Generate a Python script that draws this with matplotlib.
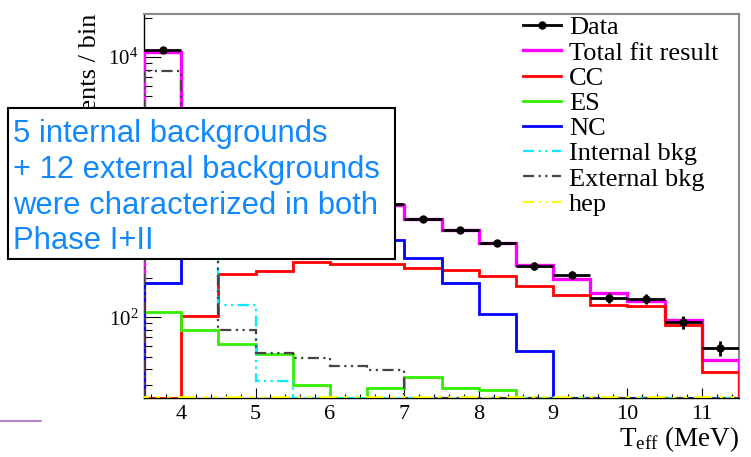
import matplotlib
matplotlib.use("Agg")
import matplotlib.pyplot as plt
from matplotlib.lines import Line2D
from matplotlib.patches import Rectangle
from matplotlib.ticker import FixedLocator, MultipleLocator, NullFormatter
import numpy as np

# energy bins (MeV)
bin_edges = [3.5, 4.0, 4.5, 5.0, 5.5, 6.0, 6.5, 7.0, 7.5, 8.0, 8.5, 9.0, 9.5, 10.0, 10.5, 11.0, 11.5]
bin_centers = [3.75, 4.25, 4.75, 5.25, 5.75, 6.25, 6.75, 7.25, 7.75, 8.25, 8.75, 9.25, 9.75, 10.25, 10.75, 11.25]

data_counts = [11250, 2450, 900, 805, 810, 760, 741, 570, 469, 375, 248, 211, 141, 138, 92, 58]
data_err = [106, 49, 30, 28, 28, 28, 27, 24, 22, 19, 16, 15, 12, 12, 10, 7.6]

total_fit = [11000, 2470, 893, 803, 808, 750, 729, 574, 469, 371, 252, 197, 153, 134, 95, 47.3]
cc = [5, 103, 217, 225, 264, 257, 256, 238, 233, 208, 173, 148, 124, 123, 87, 38.3]
es = [109, 80, 62, 52, 30, 15, 28.6, 34.7, 28.7, 27.8, 20, 18, 15, 12, 10, 7]
nc = [185, 340, 410, 440, 455, 430, 393, 288, 185, 106, 55, 15, 5, 2, 1, 0.5]
internal_bkg = [3000, 650, 124, 32.7, 10, 5, 3, 2, 1, 1, 0.5, 0.5, 0.3, 0.2, 0.1, 0.1]
external_bkg = [7760, 1300, 80.5, 53, 49, 42.5, 39.3, 20, 12, 8, 5, 3, 2, 1, 1, 0.5]
hep = [0.3, 0.3, 0.3, 0.3, 0.3, 0.3, 0.3, 0.3, 0.3, 0.3, 0.3, 0.3, 0.3, 0.3, 0.3, 0.3]

ymin, ymax = 24, 21400

plt.rcParams["font.family"] = ["Liberation Serif", "DejaVu Serif"]
plt.rcParams["mathtext.fontset"] = "custom"
plt.rcParams["mathtext.rm"] = "Liberation Serif"
plt.rcParams["mathtext.it"] = "Liberation Serif:italic"

fig = plt.figure(figsize=(7.51, 4.57), dpi=100)
ax = fig.add_axes([144 / 751, 1 - 398 / 457, 595 / 751, 384 / 457])


def clip(v):
    # ROOT draws entries below the minimum on the bottom of the frame
    return np.clip(np.array(v, dtype=float), ymin, None)


dashdotdot = (0, (5, 2, 1, 2, 1, 2))

ax.stairs(clip(total_fit), bin_edges, color="#ff00ff", lw=2.4, zorder=3)
ax.stairs(clip(cc), bin_edges, color="#ff0000", lw=2.0, zorder=4)
ax.stairs(clip(es), bin_edges, color="#33ee00", lw=2.0, zorder=4)
ax.stairs(clip(nc), bin_edges, color="#0000ff", lw=2.0, zorder=4)
ax.stairs(clip(internal_bkg), bin_edges, color="#00eeff", lw=1.6, linestyle=dashdotdot, zorder=5)
ax.stairs(clip(external_bkg), bin_edges, color="#444444", lw=1.6, linestyle=dashdotdot, zorder=5)
ax.stairs(clip(hep), bin_edges, color="#ffff00", lw=2.6, linestyle=dashdotdot, zorder=6)

ax.errorbar(bin_centers, data_counts, xerr=0.25, yerr=data_err, fmt="o", color="black",
            ms=5, elinewidth=2, capsize=0, zorder=7)

ax.set_yscale("log")
ax.set_xlim(3.5, 11.5)
ax.set_ylim(ymin, ymax)

ax.xaxis.set_major_locator(MultipleLocator(1))
ax.xaxis.set_minor_locator(MultipleLocator(0.2))
ax.yaxis.set_major_locator(FixedLocator([1e2, 1e3, 1e4]))
# 10^3 sits behind the annotation box in the original
ax.set_yticklabels([r"$10^{2}$", "", r"$10^{4}$"])
ax.yaxis.set_minor_formatter(NullFormatter())

ax.tick_params(axis="x", which="major", direction="in", length=7.5, width=0.8, labelsize=16, pad=5)
ax.tick_params(axis="x", which="minor", direction="in", length=3.2, width=0.8)
ax.tick_params(axis="y", which="major", direction="in", length=12, width=0.8, labelsize=15, pad=4)
ax.tick_params(axis="y", which="minor", direction="in", length=6, width=0.8)

for side in ["top", "right"]:
    ax.spines[side].set_color("#888888")
    ax.spines[side].set_linewidth(1.5)
for side in ["left", "bottom"]:
    ax.spines[side].set_linewidth(1.0)

ax.set_xlabel(r"T$_{\rm eff}$ (MeV)", fontsize=19.5, loc="right")
ax.xaxis.set_label_coords(1.0, -0.068)
ax.set_ylabel("Events / bin", fontsize=19, loc="top")
ax.yaxis.set_label_coords(-0.072, 1.0)

handles = [
    Line2D([], [], color="black", marker="o", ms=5, lw=2),
    Line2D([], [], color="#ff00ff", lw=2.4),
    Line2D([], [], color="#ff0000", lw=2),
    Line2D([], [], color="#33ee00", lw=2),
    Line2D([], [], color="#0000ff", lw=2),
    Line2D([], [], color="#00eeff", lw=1.6, linestyle=dashdotdot),
    Line2D([], [], color="#444444", lw=1.6, linestyle=dashdotdot),
    Line2D([], [], color="#ffff00", lw=1.6, linestyle=dashdotdot),
]
labels = ["Data", "Total fit result", "CC", "ES", "NC", "Internal bkg", "External bkg", "hep"]
ax.legend(handles, labels, loc="upper left", bbox_to_anchor=(523 / 751, 1 - 16 / 457),
          bbox_transform=fig.transFigure, frameon=False, fontsize=19, borderpad=0,
          borderaxespad=0, labelspacing=0.065, handlelength=1.44, handletextpad=0.3)

# overlay annotation box
fig.add_artist(Rectangle((8 / 751, 1 - 259 / 457), 387 / 751, 151 / 457, transform=fig.transFigure,
                         facecolor="white", edgecolor="black", lw=1.5, zorder=10))
fig.text(13 / 751, 1 - 119 / 457,
         "5 internal backgrounds\n+ 12 external backgrounds\nwere characterized in both\nPhase I+II",
         fontsize=22.3, family=["Liberation Sans", "DejaVu Sans"], color="#1188ff",
         va="top", ha="left", linespacing=1.25, zorder=11)

fig.add_artist(Line2D([0, 41 / 751], [1 - 421 / 457, 1 - 421 / 457], transform=fig.transFigure,
                      color="#a56bbd", lw=1.2))

fig.savefig("out.png", dpi=100)
